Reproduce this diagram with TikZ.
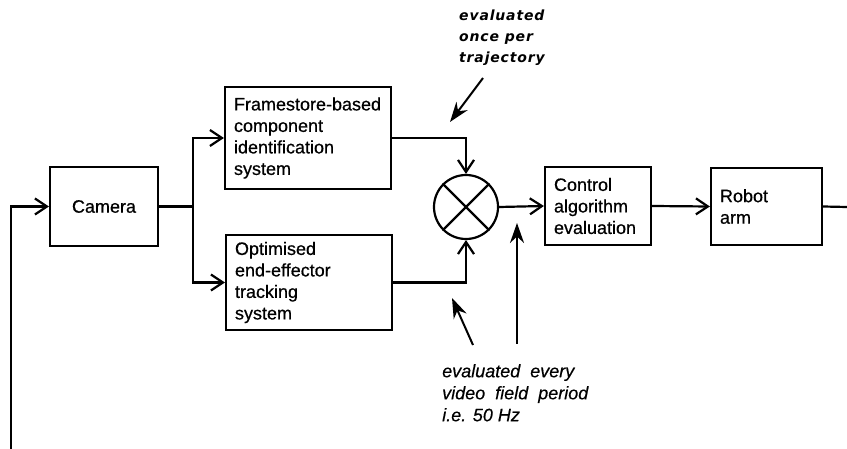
\documentclass[tikz,border=0pt]{standalone}
\usepackage{fontspec}
\setmainfont[FakeBold=0.6]{Liberation Sans}
\newfontfamily\notefont[FakeBold=0.4]{Liberation Sans}
\newfontfamily\tagfont[LetterSpace=6]{DejaVu Sans}
\usetikzlibrary{arrows.meta}

\begin{document}
\begin{tikzpicture}[x=1pt,y=-1pt,
  block/.style={draw, line width=2.2pt, font=\fontsize{18}{21.5}\selectfont,
                align=left, inner xsep=9pt, inner ysep=0pt},
  wire/.style={line width=2.2pt},
  feed/.style={wire, -{Straight Barb[length=12pt,width=16pt]}},
  note/.style={line width=2pt, -{Stealth[length=20pt,width=14pt]}},
  tagnote/.style={align=left, inner sep=0pt,
                  font=\tagfont\bfseries\itshape\fontsize{14}{21}\selectfont},
  freqnote/.style={align=left, inner sep=0pt,
                   font=\notefont\itshape\fontsize{18}{22}\selectfont}]
\useasboundingbox (0,0) rectangle (847,449);

% processing blocks
\node[block, minimum width=108, minimum height=79, align=center] (cam) at (104,206.5) {Camera};
\node[block, text width=148pt, minimum height=102] (fs) at (308,138)
  {Framestore-based\\component\\identification\\system};
\node[block, text width=148pt, minimum height=95] (opt) at (309,282.5)
  {Optimised\\end-effector\\tracking\\system};
\node[draw, circle, line width=2.2pt, minimum size=64, inner sep=0pt] (mix) at (466,207) {};
\draw[wire] (mix.north west) -- (mix.south east);
\draw[wire] (mix.north east) -- (mix.south west);
\node[block, text width=88pt, minimum height=78] (ctl) at (598,206)
  {Control\\algorithm\\evaluation};
\node[block, text width=93pt, minimum height=77] (arm) at (766.5,206.5)
  {Robot\\arm};

% feedback loop ends
\coordinate (fbL) at (11,449);
\coordinate (fbR) at (847,207);
\coordinate (split) at (193,206.5);

% signal flow
\draw[feed] (fbL) |- (cam.west);
\draw[wire] (cam.east) -- (split);
\draw[feed] (split) |- (fs.west);
\draw[feed] (split) |- (opt.west);
\draw[feed] (fs.east) -| (mix.north);
\draw[feed] (opt.east) -| (mix.south);
\draw[feed] (mix.east) -- (ctl.west);
\draw[feed] (ctl.east) -- (arm.west);
\draw[wire] (arm.east) -- (fbR);

% evaluation-rate annotations
\node[tagnote, anchor=north west] (once) at (459,10) {evaluated\\once per\\trajectory};
\coordinate (onceTail) at (483,78);
\coordinate (onceTip) at (450,122);
\draw[note] (onceTail) -- (onceTip);

\node[freqnote, anchor=north west] (every) at (442,364)
  {evaluated\ \ every\\video\ \ field\ \ period\\i.e. 50 Hz};
\coordinate (trackTail) at (473,345);
\coordinate (trackTip) at (452,298);
\draw[note] (trackTail) -- (trackTip);
\coordinate (ctlTail) at (517,344);
\coordinate (ctlTip) at (517,223);
\draw[note] (ctlTail) -- (ctlTip);
\end{tikzpicture}
\end{document}
